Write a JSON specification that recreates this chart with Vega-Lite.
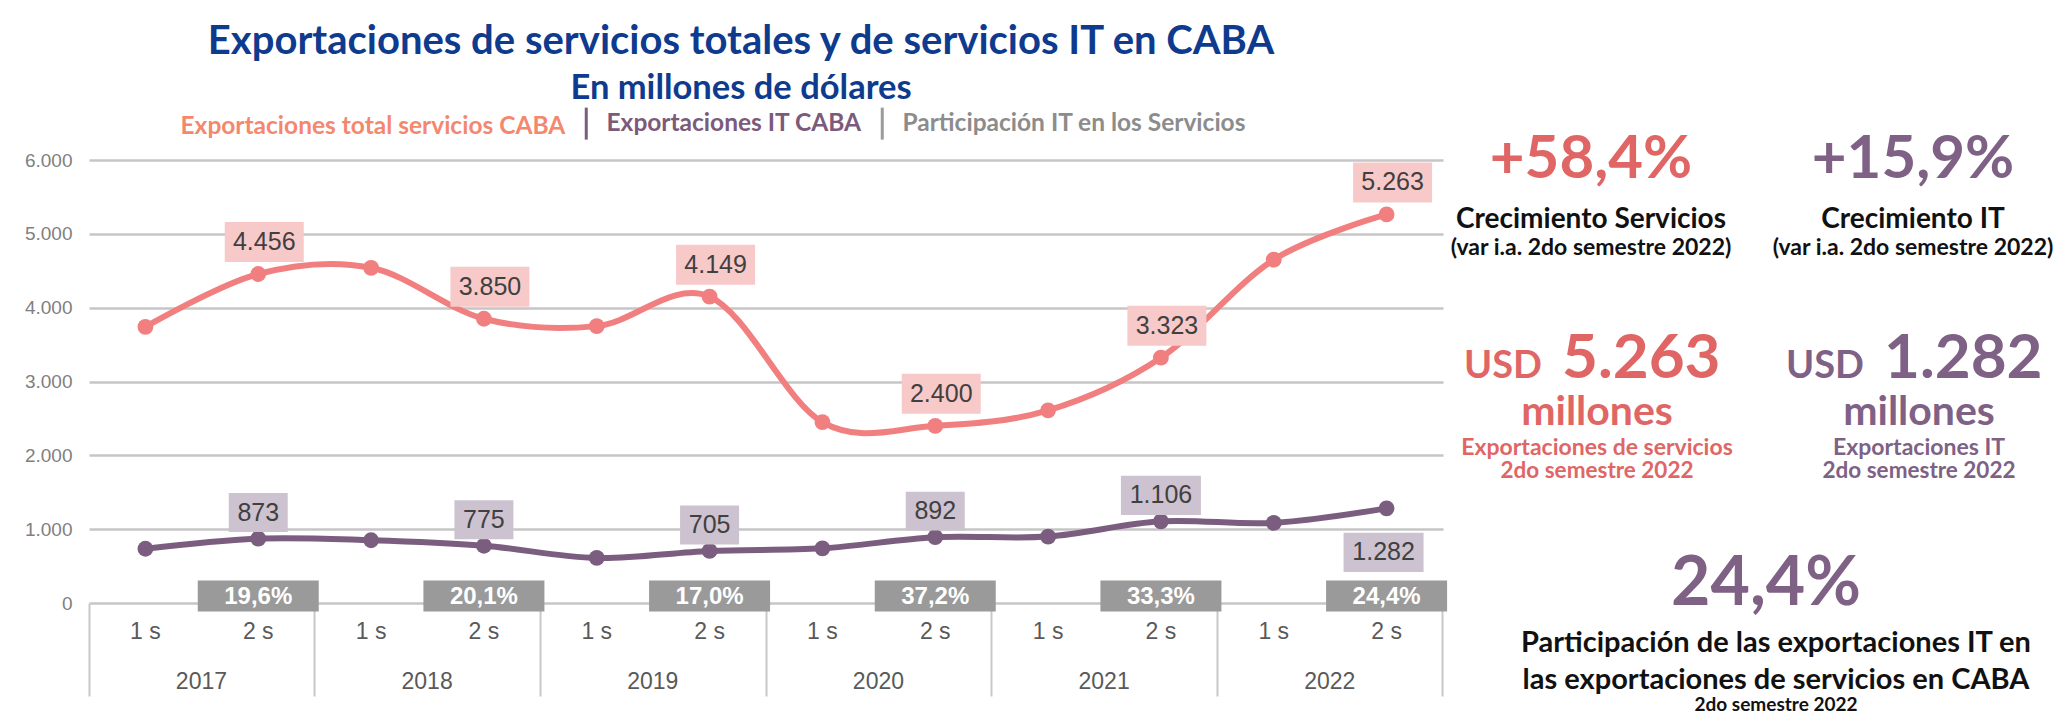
{
  "$schema": "https://vega.github.io/schema/vega-lite/v6.json",
  "width": 1354,
  "height": 443,
  "autosize": {"type": "none"},
  "padding": {"left": 89, "top": 160, "right": 618, "bottom": 124},
  "background": "white",
  "config": {
    "locale": {"number": {"decimal": ",", "thousands": ".", "grouping": [3], "currency": ["$", ""]}},
    "view": {"stroke": null},
    "font": "Liberation Sans"
  },
  "title": {
    "text": "Exportaciones de servicios totales y de servicios IT en CABA",
    "subtitle": "En millones de dólares",
    "anchor": "middle",
    "frame": "group",
    "dx": -25,
    "font": "Lato",
    "fontSize": 40,
    "fontWeight": "bold",
    "color": "#0E3B8E",
    "subtitleFont": "Lato",
    "subtitleFontSize": 34.5,
    "subtitleFontWeight": "bold",
    "subtitleColor": "#0E3B8E",
    "subtitlePadding": 10,
    "offset": 6
  },
  "datasets": {
    "series": [
      {"p": "2017-1s", "sem": "1s", "serie": "Exportaciones total servicios CABA", "valor": 3740},
      {"p": "2017-2s", "sem": "2s", "serie": "Exportaciones total servicios CABA", "valor": 4456},
      {"p": "2018-1s", "sem": "1s", "serie": "Exportaciones total servicios CABA", "valor": 4540},
      {"p": "2018-2s", "sem": "2s", "serie": "Exportaciones total servicios CABA", "valor": 3850},
      {"p": "2019-1s", "sem": "1s", "serie": "Exportaciones total servicios CABA", "valor": 3750},
      {"p": "2019-2s", "sem": "2s", "serie": "Exportaciones total servicios CABA", "valor": 4149},
      {"p": "2020-1s", "sem": "1s", "serie": "Exportaciones total servicios CABA", "valor": 2450},
      {"p": "2020-2s", "sem": "2s", "serie": "Exportaciones total servicios CABA", "valor": 2400},
      {"p": "2021-1s", "sem": "1s", "serie": "Exportaciones total servicios CABA", "valor": 2610},
      {"p": "2021-2s", "sem": "2s", "serie": "Exportaciones total servicios CABA", "valor": 3323},
      {"p": "2022-1s", "sem": "1s", "serie": "Exportaciones total servicios CABA", "valor": 4650},
      {"p": "2022-2s", "sem": "2s", "serie": "Exportaciones total servicios CABA", "valor": 5263},
      {"p": "2017-1s", "sem": "1s", "serie": "Exportaciones IT CABA", "valor": 735},
      {"p": "2017-2s", "sem": "2s", "serie": "Exportaciones IT CABA", "valor": 873},
      {"p": "2018-1s", "sem": "1s", "serie": "Exportaciones IT CABA", "valor": 850},
      {"p": "2018-2s", "sem": "2s", "serie": "Exportaciones IT CABA", "valor": 775},
      {"p": "2019-1s", "sem": "1s", "serie": "Exportaciones IT CABA", "valor": 610},
      {"p": "2019-2s", "sem": "2s", "serie": "Exportaciones IT CABA", "valor": 705},
      {"p": "2020-1s", "sem": "1s", "serie": "Exportaciones IT CABA", "valor": 740},
      {"p": "2020-2s", "sem": "2s", "serie": "Exportaciones IT CABA", "valor": 892},
      {"p": "2021-1s", "sem": "1s", "serie": "Exportaciones IT CABA", "valor": 900},
      {"p": "2021-2s", "sem": "2s", "serie": "Exportaciones IT CABA", "valor": 1106},
      {"p": "2022-1s", "sem": "1s", "serie": "Exportaciones IT CABA", "valor": 1085},
      {"p": "2022-2s", "sem": "2s", "serie": "Exportaciones IT CABA", "valor": 1282},
      {"p": "2017-2s", "sem": "2s", "serie": "Participación IT en los Servicios", "valor": 0.196},
      {"p": "2018-2s", "sem": "2s", "serie": "Participación IT en los Servicios", "valor": 0.201},
      {"p": "2019-2s", "sem": "2s", "serie": "Participación IT en los Servicios", "valor": 0.170},
      {"p": "2020-2s", "sem": "2s", "serie": "Participación IT en los Servicios", "valor": 0.372},
      {"p": "2021-2s", "sem": "2s", "serie": "Participación IT en los Servicios", "valor": 0.333},
      {"p": "2022-2s", "sem": "2s", "serie": "Participación IT en los Servicios", "valor": 0.244}
    ],
    "kpis": [
      {"col": "Servicios", "block": "crec", "main": "+58,4%", "l1": "Crecimiento Servicios", "l2": "(var i.a. 2do semestre 2022)"},
      {"col": "IT", "block": "crec", "main": "+15,9%", "l1": "Crecimiento IT", "l2": "(var i.a. 2do semestre 2022)"},
      {"col": "Servicios", "block": "monto", "pre": "USD", "main": "5.263", "l1": "millones", "l2": "Exportaciones de servicios", "l3": "2do semestre 2022"},
      {"col": "IT", "block": "monto", "pre": "USD", "main": "1.282", "l1": "millones", "l2": "Exportaciones IT", "l3": "2do semestre 2022"},
      {"col": "Total", "block": "part", "main": "24,4%", "l1": "Participación de las exportaciones IT en", "l2": "las exportaciones de servicios en CABA", "l3": "2do semestre 2022"}
    ]
  },
  "layer": [
    {
      "data": {"name": "series"},
      "layer": [
        {
          "transform": [{"filter": "datum.serie !== 'Participación IT en los Servicios'"}],
          "mark": {"type": "line", "interpolate": "cardinal", "strokeWidth": 6},
          "encoding": {
            "x": {"field": "p", "type": "ordinal", "scale": {"type": "band", "paddingInner": 0, "paddingOuter": 0},
              "axis": {"orient": "bottom", "title": null, "domain": false, "ticks": false, "tickSize": 0, "labelPadding": 17, "labelFontSize": 23, "labelColor": "#595959", "labelAngle": 0, "labelExpr": "substring(datum.value, 5, 6) + ' s'"}},
            "y": {"field": "valor", "type": "quantitative", "scale": {"domain": [0, 6000], "nice": false},
              "axis": {"orient": "left", "title": null, "values": [0, 1000, 2000, 3000, 4000, 5000, 6000], "format": ",d", "grid": true, "gridColor": "#c6c6c6", "gridWidth": 2.5, "domain": false, "ticks": false, "labelPadding": 17, "labelFontSize": 19, "labelColor": "#808080"}},
            "color": {"field": "serie", "type": "nominal",
              "scale": {"domain": ["Exportaciones total servicios CABA", "Exportaciones IT CABA", "Participación IT en los Servicios"], "range": ["#F17F7F", "#7B5E7F", "#9A9A9A"]},
              "legend": {
                "orient": "none", "legendX": 59, "legendY": -49, "direction": "horizontal", "columns": 3, "title": null,
                "labelFont": "Lato", "labelFontSize": 24.5, "labelFontWeight": "bold", "labelLimit": 0,
                "labelColor": {"expr": "datum.value === 'Exportaciones IT CABA' ? '#7B5A7B' : (datum.value === 'Participación IT en los Servicios' ? '#8C8C8C' : '#F4886E')"},
                "symbolType": "M0,-3.2V3.2", "symbolSize": 100, "symbolStrokeWidth": 3, "symbolStrokeColor": "#5a5a5a", "symbolFillColor": "#5a5a5a",
                "symbolOpacity": {"expr": "datum.value === 'Exportaciones total servicios CABA' ? 0 : 1"},
                "labelOffset": 8, "columnPadding": 8
              }}
          }
        },
        {
          "transform": [{"filter": "datum.serie !== 'Participación IT en los Servicios'"}],
          "mark": {"type": "point", "filled": true, "size": 250, "opacity": 1},
          "encoding": {
            "x": {"field": "p", "type": "ordinal", "scale": {"type": "band", "paddingInner": 0, "paddingOuter": 0},
              "axis": {"orient": "bottom", "title": null, "values": ["2017-1s", "2018-1s", "2019-1s", "2020-1s", "2021-1s", "2022-1s"], "bandPosition": 0, "domain": false, "ticks": true, "tickSize": 93, "tickColor": "#c8c8c8", "tickWidth": 2, "labelOffset": 56, "labelPadding": -26, "labelFontSize": 23, "labelColor": "#595959", "labelAngle": 0, "labelBound": false, "labelOverlap": false, "labelExpr": "substring(datum.value, 0, 4)"}},
            "y": {"field": "valor", "type": "quantitative", "axis": null},
            "color": {"field": "serie", "type": "nominal", "legend": null}
          }
        },
        {
          "transform": [{"filter": "datum.serie === 'Exportaciones total servicios CABA' && datum.sem === '2s'"}],
          "mark": {"type": "point", "shape": "M-1,-0.506H1V0.506H-1Z", "filled": true, "size": 6241, "color": "#F8C9C9", "opacity": 1, "strokeWidth": 0, "xOffset": 6, "yOffset": -32},
          "encoding": {
            "x": {"field": "p", "type": "ordinal", "scale": {"type": "band", "paddingInner": 0, "paddingOuter": 0},
              "axis": {"orient": "bottom", "title": null, "values": ["2022-2s"], "bandPosition": 1, "domain": false, "ticks": true, "tickSize": 93, "tickColor": "#c8c8c8", "tickWidth": 2, "labels": false}},
            "y": {"field": "valor", "type": "quantitative", "axis": null}
          }
        },
        {
          "transform": [{"filter": "datum.serie === 'Exportaciones total servicios CABA' && datum.sem === '2s'"}],
          "mark": {"type": "text", "fontSize": 25, "color": "#404040", "dx": 6, "dy": -32, "baseline": "middle"},
          "encoding": {
            "x": {"field": "p", "type": "ordinal", "axis": null},
            "y": {"field": "valor", "type": "quantitative", "axis": null},
            "text": {"field": "valor", "type": "quantitative", "format": ",d"}
          }
        },
        {
          "transform": [{"filter": "datum.serie === 'Exportaciones IT CABA' && datum.sem === '2s' && datum.p !== '2022-2s' && datum.valor < 1000"}],
          "mark": {"type": "point", "shape": "M-1,-0.66H1V0.66H-1Z", "filled": true, "size": 3481, "color": "#CDC2CF", "opacity": 1, "strokeWidth": 0, "yOffset": -26},
          "encoding": {
            "x": {"field": "p", "type": "ordinal", "axis": null},
            "y": {"field": "valor", "type": "quantitative", "axis": null}
          }
        },
        {
          "transform": [{"filter": "datum.serie === 'Exportaciones IT CABA' && datum.sem === '2s' && datum.p !== '2022-2s' && datum.valor >= 1000"}],
          "mark": {"type": "point", "shape": "M-1,-0.49H1V0.49H-1Z", "filled": true, "size": 6400, "color": "#CDC2CF", "opacity": 1, "strokeWidth": 0, "yOffset": -26},
          "encoding": {
            "x": {"field": "p", "type": "ordinal", "axis": null},
            "y": {"field": "valor", "type": "quantitative", "axis": null}
          }
        },
        {
          "transform": [{"filter": "datum.serie === 'Exportaciones IT CABA' && datum.sem === '2s' && datum.p !== '2022-2s'"}],
          "mark": {"type": "text", "fontSize": 25, "color": "#404040", "dy": -26, "baseline": "middle"},
          "encoding": {
            "x": {"field": "p", "type": "ordinal", "axis": null},
            "y": {"field": "valor", "type": "quantitative", "axis": null},
            "text": {"field": "valor", "type": "quantitative", "format": ",d"}
          }
        },
        {
          "transform": [{"filter": "datum.serie === 'Exportaciones IT CABA' && datum.p === '2022-2s'"}],
          "mark": {"type": "point", "shape": "M-1,-0.49H1V0.49H-1Z", "filled": true, "size": 6400, "color": "#CDC2CF", "opacity": 1, "strokeWidth": 0, "xOffset": -3, "yOffset": 44},
          "encoding": {
            "x": {"field": "p", "type": "ordinal", "axis": null},
            "y": {"field": "valor", "type": "quantitative", "axis": null}
          }
        },
        {
          "transform": [{"filter": "datum.serie === 'Exportaciones IT CABA' && datum.p === '2022-2s'"}],
          "mark": {"type": "text", "fontSize": 25, "color": "#404040", "dx": -3, "dy": 44, "baseline": "middle"},
          "encoding": {
            "x": {"field": "p", "type": "ordinal", "axis": null},
            "y": {"field": "valor", "type": "quantitative", "axis": null},
            "text": {"field": "valor", "type": "quantitative", "format": ",d"}
          }
        },
        {
          "transform": [{"filter": "datum.serie === 'Participación IT en los Servicios'"}],
          "mark": {"type": "point", "shape": "M-1,-0.256H1V0.256H-1Z", "filled": true, "size": 14641, "opacity": 1, "strokeWidth": 0, "yOffset": -7},
          "encoding": {
            "x": {"field": "p", "type": "ordinal", "axis": null},
            "y": {"datum": 0, "type": "quantitative", "axis": null},
            "color": {"field": "serie", "type": "nominal", "legend": null}
          }
        },
        {
          "transform": [{"filter": "datum.serie === 'Participación IT en los Servicios'"}],
          "mark": {"type": "text", "fontSize": 24, "fontWeight": "bold", "color": "white", "dy": -6, "baseline": "middle"},
          "encoding": {
            "x": {"field": "p", "type": "ordinal", "axis": null},
            "y": {"datum": 0, "type": "quantitative", "axis": null},
            "text": {"field": "valor", "type": "quantitative", "format": ".1%"}
          }
        }
      ],
      "resolve": {"axis": {"x": "independent", "y": "independent"}}
    },
    {
      "data": {"name": "kpis"},
      "encoding": {
        "x": {"field": "col", "type": "nominal", "scale": {"type": "point", "domain": ["Servicios", "Total", "IT"], "range": [1502, 1824], "padding": 0}, "axis": null},
        "y": {"field": "block", "type": "nominal", "scale": {"type": "point", "domain": ["crec", "monto", "part"], "range": [-5, 418], "padding": 0}, "axis": null},
        "color": {"condition": {"test": "datum.col === 'Servicios'", "value": "#E06666"}, "value": "#7E6185"}
      },
      "layer": [
        {"transform": [{"filter": "datum.block === 'crec'"}], "mark": {"type": "text", "font": "Lato", "fontWeight": "bold", "fontSize": 60, "baseline": "alphabetic", "dy": 23}, "encoding": {"text": {"field": "main"}}},
        {"transform": [{"filter": "datum.block === 'crec'"}], "mark": {"type": "text", "font": "Lato", "fontWeight": "bold", "fontSize": 28, "baseline": "alphabetic", "dy": 73}, "encoding": {"text": {"field": "l1"}, "color": {"value": "#111111"}}},
        {"transform": [{"filter": "datum.block === 'crec'"}], "mark": {"type": "text", "font": "Lato", "fontWeight": "bold", "fontSize": 23, "baseline": "alphabetic", "dy": 100}, "encoding": {"text": {"field": "l2"}, "color": {"value": "#111111"}}},
        {"transform": [{"filter": "datum.block === 'monto'"}], "mark": {"type": "text", "font": "Lato", "fontWeight": "bold", "fontSize": 38, "baseline": "alphabetic", "align": "right", "dx": -49, "dy": 11.5}, "encoding": {"text": {"field": "pre"}}},
        {"transform": [{"filter": "datum.block === 'monto'"}], "mark": {"type": "text", "font": "Lato", "fontWeight": "bold", "fontSize": 62, "baseline": "alphabetic", "align": "left", "dx": -29, "dy": 11.5}, "encoding": {"text": {"field": "main"}}},
        {"transform": [{"filter": "datum.block === 'monto'"}], "mark": {"type": "text", "font": "Lato", "fontWeight": "bold", "fontSize": 41, "baseline": "alphabetic", "dx": 6, "dy": 58}, "encoding": {"text": {"field": "l1"}}},
        {"transform": [{"filter": "datum.block === 'monto'"}], "mark": {"type": "text", "font": "Lato", "fontWeight": "bold", "fontSize": 23, "baseline": "alphabetic", "dx": 6, "dy": 88.5}, "encoding": {"text": {"field": "l2"}}},
        {"transform": [{"filter": "datum.block === 'monto'"}], "mark": {"type": "text", "font": "Lato", "fontWeight": "bold", "fontSize": 22.5, "baseline": "alphabetic", "dx": 6, "dy": 111.5}, "encoding": {"text": {"field": "l3"}}},
        {"transform": [{"filter": "datum.block === 'part'"}], "mark": {"type": "text", "font": "Lato", "fontWeight": "bold", "fontSize": 68, "baseline": "alphabetic", "dx": 14, "dy": 27}, "encoding": {"text": {"field": "main"}}},
        {"transform": [{"filter": "datum.block === 'part'"}], "mark": {"type": "text", "font": "Lato", "fontWeight": "bold", "fontSize": 29, "baseline": "alphabetic", "dx": 24, "dy": 73.5}, "encoding": {"text": {"field": "l1"}, "color": {"value": "#111111"}}},
        {"transform": [{"filter": "datum.block === 'part'"}], "mark": {"type": "text", "font": "Lato", "fontWeight": "bold", "fontSize": 29, "baseline": "alphabetic", "dx": 24, "dy": 110.5}, "encoding": {"text": {"field": "l2"}, "color": {"value": "#111111"}}},
        {"transform": [{"filter": "datum.block === 'part'"}], "mark": {"type": "text", "font": "Lato", "fontWeight": "bold", "fontSize": 19, "baseline": "alphabetic", "dx": 24, "dy": 133}, "encoding": {"text": {"field": "l3"}, "color": {"value": "#111111"}}}
      ]
    }
  ],
  "resolve": {"scale": {"x": "independent", "y": "independent"}, "axis": {"x": "independent", "y": "independent"}}
}
